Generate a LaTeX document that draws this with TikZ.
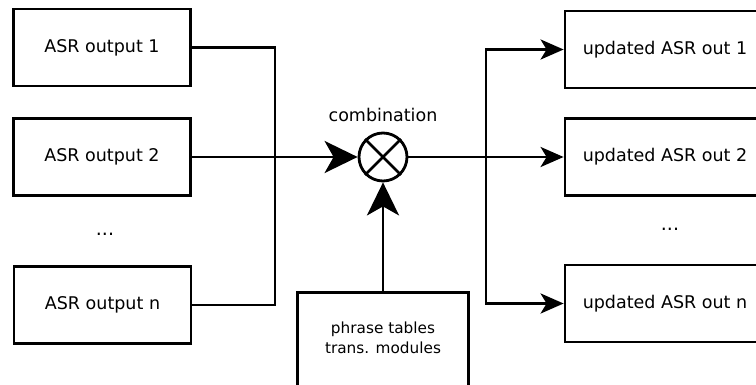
\documentclass[tikz,border=0pt]{standalone}
\usepackage{fontspec}
\setmainfont{DejaVu Sans}
\usetikzlibrary{arrows.meta}
\tikzset{
  box/.style={draw, line width=2.8pt, minimum width=177pt, minimum height=77pt, inner sep=0pt,
              font=\fontsize{17.5}{20}\selectfont},
  rbox/.style={box, minimum width=200pt},
  lbl/.style={font=\fontsize{17.5}{20}\selectfont, inner sep=0pt},
  wire/.style={line width=2.8pt},
  bigarrow/.style={wire, -{Stealth[length=33pt, width=32pt, inset=9pt]}},
  smallarrow/.style={wire, -{Stealth[length=23pt, width=20pt, inset=6pt]}},
  comb/.style={draw, circle, line width=2.8pt, minimum size=48pt, inner sep=0pt}
}
\begin{document}
\begin{tikzpicture}[x=1pt, y=-1pt]
  \useasboundingbox (0,0) rectangle (756,385);
  \clip (0,0) rectangle (756,385);
  % left boxes
  \node[box] (b1) at (102,47.5) {ASR output 1};
  \node[box] (b2) at (102,157) {ASR output 2};
  \node[lbl, font=\fontsize{19}{20}\selectfont] (ldots) at (105,234) {...};
  \node[box] (bn) at (102.5,305) {ASR output n};
  % combination
  \node[comb] (c) at (383,157) {};
  \draw[wire] (c.north west) -- (c.south east);
  \draw[wire] (c.north east) -- (c.south west);
  \node[lbl] (cl) at (383,115) {combination};
  % phrase box
  \node[draw, line width=2.8pt, minimum width=171pt, minimum height=120pt, inner sep=0pt]
       (pt) at (383,352.5) {};
  \node[font=\fontsize{15.3}{20}\selectfont, align=center, inner sep=0pt] (ptt) at (383,338)
       {phrase tables\\trans. modules};
  % right boxes
  \node[rbox] (r1) at (665,49.5) {updated ASR out 1};
  \node[rbox] (r2) at (665,157) {updated ASR out 2};
  \node[lbl, font=\fontsize{19}{20}\selectfont] (rdots) at (670,229) {...};
  \node[rbox] (rn) at (665,303.5) {updated ASR out n};
  % junctions
  \coordinate (jl) at (275,157);
  \coordinate (jr) at (486,157);
  % left connectors
  \draw[wire] (b1.east) -| (jl) |- (bn.east);
  \draw[bigarrow] (b2.east) -- (c.west);
  \draw[bigarrow] (pt.north) -- (c.south);
  % right connectors
  \draw[smallarrow] (c.east) -- (r2.west);
  \draw[smallarrow] (jr) |- (r1.west);
  \draw[smallarrow] (jr) |- (rn.west);
\end{tikzpicture}
\end{document}
